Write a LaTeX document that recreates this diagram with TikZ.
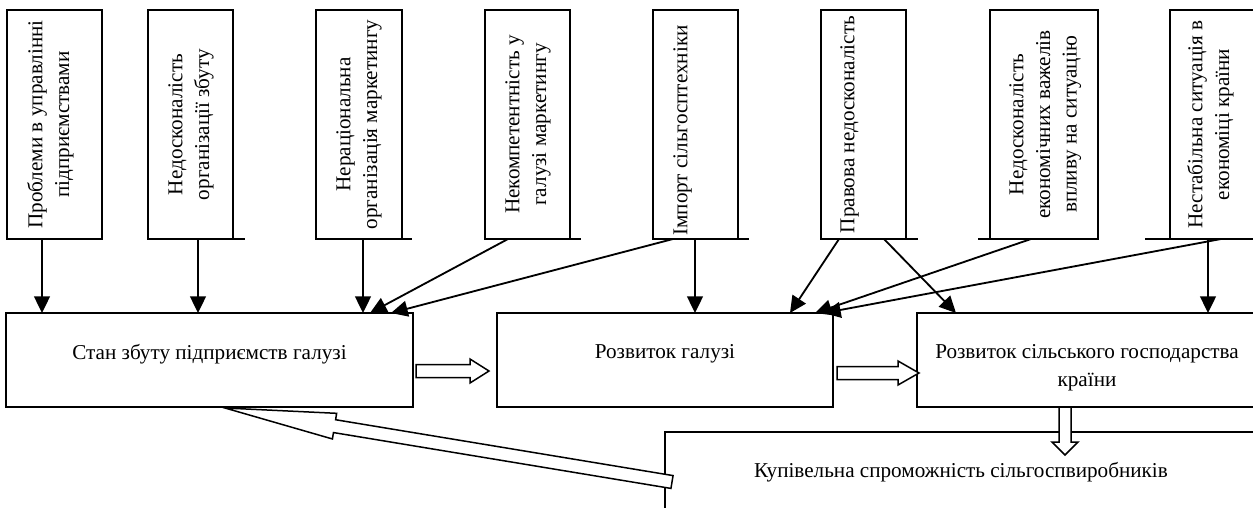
\documentclass[tikz,border=0pt]{standalone}
\usepackage{fontspec}
\setmainfont{Liberation Serif}
\usetikzlibrary{arrows.meta,calc,positioning}
\newdimen\pxu
\pxu=0.6pt

\newcommand{\blockarrow}[5]{%
  \draw[blockline] let \p1=($(#2)-(#1)$), \n1={atan2(\y1,\x1)}, \n2={veclen(\x1,\y1)-#5*\pxu} in
    ($(#1)+(\n1+90:#3*\pxu)$) -- ($(#1)+(\n1:\n2)+(\n1+90:#3*\pxu)$)
    -- ($(#1)+(\n1:\n2)+(\n1+90:#4*\pxu)$) -- (#2)
    -- ($(#1)+(\n1:\n2)+(\n1-90:#4*\pxu)$) -- ($(#1)+(\n1:\n2)+(\n1-90:#3*\pxu)$)
    -- ($(#1)+(\n1-90:#3*\pxu)$) -- cycle;}

\begin{document}
\begin{tikzpicture}[x=\pxu, y=-\pxu,
  box/.style={draw, line width=1.1pt, inner sep=0pt, outer sep=0pt, anchor=north west},
  topbox/.style={box, minimum height=229*\pxu},
  vtext/.style={rotate=90, anchor=north, align=center, inner sep=0pt, font=\fontsize{12.7}{16}\selectfont},
  htext/.style={anchor=north, align=center, inner sep=0pt, font=\fontsize{12.7}{16.8}\selectfont},
  arr/.style={-{Triangle[length=10pt,width=9.5pt]}, line width=1.1pt},
  blockline/.style={line width=0.9pt, fill=white, line join=miter}]
  \useasboundingbox (0,0) rectangle (1253,507);
  \clip (0,0) rectangle (1253,507);

  \node[topbox, minimum width=95*\pxu] (p1) at (7,10) {};
  \node[topbox, minimum width=85*\pxu] (p2) at (148,10) {};
  \node[topbox, minimum width=86*\pxu] (p3) at (316,10) {};
  \node[topbox, minimum width=85*\pxu] (p4) at (485,10) {};
  \node[topbox, minimum width=85*\pxu] (p5) at (653,10) {};
  \node[topbox, minimum width=85*\pxu] (p6) at (821,10) {};
  \node[topbox, minimum width=108*\pxu] (p7) at (990,10) {};
  \node[topbox, minimum width=86*\pxu] (p8) at (1170,10) {};

  \node[vtext] (t1) at ($(p1.west)+(20,0)$) {Проблеми в управлінні\\підприємствами};
  \node[vtext] (t2) at ($(p2.west)+(20,0)$) {Недосконалість\\організації збуту};
  \node[vtext] (t3) at ($(p3.west)+(20,0)$) {Нераціональна\\організація маркетингу};
  \node[vtext] (t4) at ($(p4.west)+(20,0)$) {Некомпетентність у\\галузі маркетингу};
  \node[vtext] (t5) at ($(p5.west)+(20,6)$) {Імпорт сільгосптехніки};
  \node[vtext] (t6) at ($(p6.west)+(19,0)$) {Правова недосконалість};
  \node[vtext] (t7) at ($(p7.west)+(19,0)$) {Недосконалість\\економічних важелів\\впливу на ситуацію};
  \node[vtext] (t8) at ($(p8.west)+(17,0)$) {Нестабільна ситуація в\\економіці країни};

  \draw[line width=1.1pt] (p2.south east) -- ++(12,0);
  \draw[line width=1.1pt] (p3.south east) -- ++(10,0);
  \draw[line width=1.1pt] (p4.south east) -- ++(11,0);
  \draw[line width=1.1pt] (p5.south east) -- ++(11,0);
  \draw[line width=1.1pt] (p6.south east) -- ++(12,0);
  \draw[line width=1.1pt] (p7.south west) -- ++(-12,0);
  \draw[line width=1.1pt] (p8.south west) -- ++(-25,0);

  \node[box, minimum width=407*\pxu, minimum height=94*\pxu] (m1) at (6,313) {};
  \node[box, minimum width=336*\pxu, minimum height=94*\pxu] (m2) at (497,313) {};
  \node[box, minimum width=340*\pxu, minimum height=94*\pxu] (m3) at (917,313) {};
  \node[box, minimum width=592*\pxu, minimum height=90*\pxu] (kp) at (665,432) {};

  \node[htext] (s1) at ($(m1.north)+(0,31)$) {Стан збуту підприємств галузі};
  \node[htext] (s2) at ($(m2.north)+(0,31)$) {Розвиток галузі};
  \node[htext] (s3) at ($(m3.north)+(0,31)$) {Розвиток сільського господарства\\країни};
  \node[htext] (s4) at ($(kp.north)+(0,30)$) {Купівельна спроможність сільгоспвиробників};

  \draw[arr] ($(p1.south west)+(35,0)$) coordinate (a1) -- (a1 |- m1.north);
  \draw[arr] ($(p2.south west)+(50,0)$) coordinate (a2) -- (a2 |- m1.north);
  \draw[arr] ($(p3.south west)+(47,0)$) coordinate (a3) -- (a3 |- m1.north);
  \draw[arr] ($(p4.south west)+(23,0)$) -- ($(m1.north west)+(364,0)$);
  \draw[arr] ($(p5.south west)+(20,0)$) -- ($(m1.north west)+(385,0)$);
  \draw[arr] ($(p5.south west)+(42,0)$) coordinate (a5) -- (a5 |- m2.north);
  \draw[arr] ($(p6.south west)+(18,0)$) -- ($(m2.north west)+(293,0)$);
  \draw[arr] ($(p6.south west)+(63,0)$) -- ($(m3.north west)+(39,0)$);
  \draw[arr] ($(p7.south west)+(41,0)$) -- ($(m2.north west)+(318,0)$);
  \draw[arr] ($(p8.south west)+(51,0)$) -- ($(m2.north west)+(327,0)$);
  \draw[arr] ($(p8.south west)+(38,0)$) coordinate (a8) -- (a8 |- m3.north);

  \coordinate (b1) at ($(m1.east)+(3,11)$);
  \coordinate (b2) at ($(m2.west)+(-8,11)$);
  \coordinate (b3) at ($(m2.east)+(4,13)$);
  \coordinate (b4) at ($(m3.west)+(2,13)$);
  \coordinate (b5) at ($(m3.south west)+(148,0)$);
  \coordinate (b6) at ($(kp.north west)+(400,23)$);
  \coordinate (b7) at ($(kp.north west)+(7,50)$);
  \coordinate (b8) at ($(m1.south west)+(219,1)$);
  \blockarrow{b1}{b2}{6.5}{12}{19}
  \blockarrow{b3}{b4}{6.5}{12}{21}
  \blockarrow{b5}{b6}{6}{13}{13}
  \blockarrow{b7}{b8}{6.5}{13}{111}
\end{tikzpicture}
\end{document}
